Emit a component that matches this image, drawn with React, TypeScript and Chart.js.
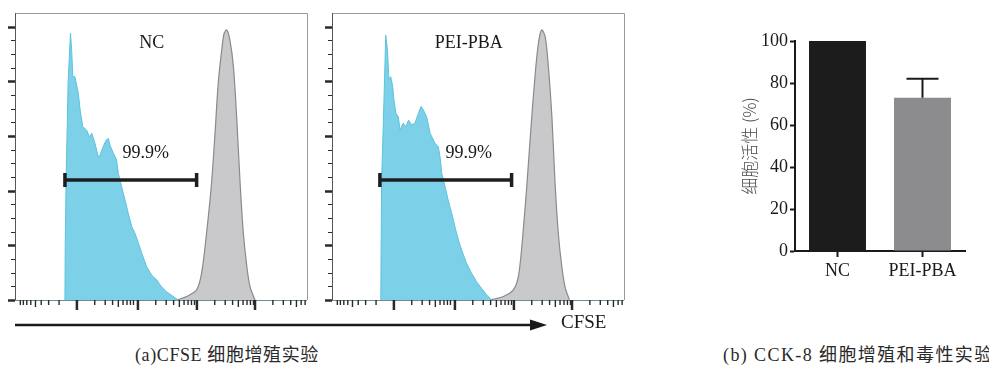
import React, { useEffect, useRef } from "react";
import { Chart, registerables } from "chart.js";

Chart.register(...registerables);

const SERIF = '"Liberation Serif", "Times New Roman", serif';
const CJK = '"Noto Sans CJK SC", "Noto Sans CJK JP", sans-serif';

function fontsReady(): Promise<any> {
  const d: any = document as any;
  if (!d.fonts || !d.fonts.load) return Promise.resolve();
  return Promise.all([
    d.fonts.load('17px "Liberation Serif"'),
    d.fonts.load('17px "Noto Sans CJK SC"', "细胞活性"),
  ]).catch(() => undefined);
}

// ---------- CFSE histograms: [channel, count] ----------
const ncBlue: [number, number][] = [
  [171, 0], [172, 20], [175, 44], [182, 80], [190, 97.6], [194, 91.5], [198, 81.7],
  [205, 81.7], [217, 75.6], [223, 69.5], [232, 63.4], [245, 62.2], [255, 59.7],
  [263, 61.0], [274, 57.3], [285, 52.4], [291, 53.0], [302, 56.1], [312, 58.5],
  [320, 59.1], [325, 56.7], [337, 53.7], [348, 51.2], [354, 46.3], [365, 41.5],
  [377, 36.5], [388, 31.7], [400, 26.8], [411, 24.4], [423, 20.7], [434, 17.1],
  [451, 12.2], [468, 9.1], [485, 7.4], [502, 4.8], [519, 3.0], [542, 1.3], [559, 0],
];
const ncGray: [number, number][] = [
  [554, 0], [588, 1.3], [622, 3.7], [639, 9.8], [656, 24.4], [673, 42.6], [685, 61.0],
  [696, 79.3], [708, 91.5], [716, 97.5], [725, 98.8], [736, 95.1], [748, 85.4],
  [759, 67.1], [771, 42.6], [782, 24.4], [794, 12.2], [805, 4.8], [822, 0],
];
const pbaBlue: [number, number][] = [
  [167, 0], [170, 43.9], [178, 73.2], [184, 96.9], [190, 91.5], [195, 80.5], [201, 81.7],
  [208, 78.0], [212, 73.2], [219, 68.3], [227, 67.1], [233, 62.2], [244, 64.7],
  [253, 63.4], [262, 65.8], [273, 64.1], [284, 64.7], [296, 68.3], [305, 70.8],
  [313, 69.5], [324, 67.1], [336, 61.0], [353, 57.3], [364, 56.1], [370, 52.4],
  [376, 46.3], [387, 41.5], [398, 36.5], [410, 31.7], [421, 26.8], [433, 21.9],
  [444, 18.3], [461, 13.4], [478, 9.8], [495, 6.7], [512, 4.3], [530, 1.8], [547, 0],
];
const pbaGray: [number, number][] = [
  [541, 0], [587, 1.3], [621, 3.7], [638, 8.5], [650, 19.5], [667, 41.5], [680, 61.0],
  [695, 81.7], [707, 94.0], [718, 98.8], [730, 96.4], [741, 85.4], [753, 67.1],
  [764, 42.6], [775, 24.4], [787, 12.2], [798, 4.8], [813, 0],
];
const ncGate = [171, 622];
const pbaGate = [164, 615];
const gateLevel = 43.9;
const gatePercent = "99.9%";
const histNames = ["NC", "PEI-PBA"];
const histYMax = 105;
const histYTicks = [0, 5, 10, 15, 20, 25, 30, 35, 40, 45, 50, 55, 60, 65, 70, 75, 80, 85, 90, 95, 100];
const histXMajor = [212, 421, 623, 822];
const histDecade = 203;

// ---------- CCK-8 bar chart ----------
const barCategories = ["NC", "PEI-PBA"];
const barValues = [100, 73];
const barErrors = [0, 9];
const barColors = ["#1c1c1c", "#8c8c8e"];
const barTicks = [0, 20, 40, 60, 80, 100];
const barYTitle = "细胞活性 (%)";

function minorLogTicks(): { v: number; len: number }[] {
  const out: { v: number; len: number }[] = [];
  for (const m of histXMajor) {
    for (let k = 2; k <= 9; k++) {
      const v = m + histDecade * Math.log10(k);
      if (v < 1000) out.push({ v, len: k === 5 ? 7 : 5 });
    }
  }
  const first = histXMajor[0];
  for (let k = 2; k <= 9; k++) {
    const v = first - histDecade * Math.log10(k);
    if (v > 0) out.push({ v, len: k === 5 ? 7 : 5 });
  }
  return out;
}

const histPlugin = {
  id: "histDecor",
  afterDatasetsDraw(chart: any) {
    const opts = chart.options.plugins.histDecor;
    const { ctx, chartArea } = chart;
    const xs = chart.scales.x;
    const ys = chart.scales.y;
    const { left, right, top, bottom } = chartArea;
    ctx.save();
    ctx.lineWidth = 1;
    ctx.strokeStyle = "#9a9a9a";
    ctx.beginPath();
    ctx.moveTo(left, top + 0.5);
    ctx.lineTo(right + 0.5, top + 0.5);
    ctx.lineTo(right + 0.5, bottom);
    ctx.stroke();
    ctx.strokeStyle = "#6f8a94";
    ctx.beginPath();
    ctx.moveTo(left, bottom + 0.5);
    ctx.lineTo(right, bottom + 0.5);
    ctx.stroke();
    ctx.strokeStyle = "#555";
    ctx.beginPath();
    ctx.moveTo(left + 0.5, top);
    ctx.lineTo(left + 0.5, bottom);
    ctx.stroke();
    ctx.strokeStyle = "#2a2a2a";
    for (const v of histYTicks) {
      const y = Math.round(ys.getPixelForValue(v)) + 0.5;
      const major = v % 20 === 0;
      ctx.lineWidth = major ? 2.5 : 1;
      ctx.beginPath();
      ctx.moveTo(left - (major ? 7 : 4), y);
      ctx.lineTo(left, y);
      ctx.stroke();
    }
    for (const m of histXMajor) {
      const x = xs.getPixelForValue(m);
      ctx.lineWidth = 2.5;
      ctx.beginPath();
      ctx.moveTo(x, bottom);
      ctx.lineTo(x, bottom + 10);
      ctx.stroke();
    }
    ctx.lineWidth = 1.4;
    for (const t of minorLogTicks()) {
      const x = xs.getPixelForValue(t.v);
      ctx.beginPath();
      ctx.moveTo(x, bottom);
      ctx.lineTo(x, bottom + t.len);
      ctx.stroke();
    }
    ctx.fillStyle = "#1a1a1a";
    ctx.font = `18px ${SERIF}`;
    ctx.textAlign = "center";
    ctx.textBaseline = "middle";
    ctx.fillText(opts.name, xs.getPixelForValue(opts.nameX), ys.getPixelForValue(opts.nameY));
    ctx.fillText(opts.pct, xs.getPixelForValue(opts.pctX), ys.getPixelForValue(opts.pctY));
    ctx.restore();
  },
};

function Histogram(props: {
  blue: [number, number][];
  gray: [number, number][];
  gate: number[];
  name: string;
  left: number;
  padL: number;
  padR: number;
}) {
  const ref = useRef<HTMLCanvasElement>(null);
  useEffect(() => {
    let chart: Chart | null = null;
    let dead = false;
    fontsReady().then(() => {
      if (dead || !ref.current) return;
      chart = new Chart(ref.current, {
        type: "line",
        data: {
          datasets: [
            {
              data: props.gate.map((x) => ({ x, y: gateLevel })),
              borderColor: "#1e1e1e",
              borderWidth: 3.5,
              pointStyle: "line",
              rotation: 90,
              pointRadius: 7,
              pointBorderWidth: 3.5,
              pointBorderColor: "#1e1e1e",
              fill: false,
              order: 0,
            } as any,
            {
              data: props.blue.map(([x, y]) => ({ x, y })),
              borderColor: "#5cc2dd",
              backgroundColor: "#7cd0e7",
              borderWidth: 1,
              pointRadius: 0,
              fill: "origin",
              tension: 0,
              order: 1,
            },
            {
              data: props.gray.map(([x, y]) => ({ x, y })),
              borderColor: "#888a8c",
              backgroundColor: "#c9c9cb",
              borderWidth: 1.2,
              pointRadius: 0,
              fill: "origin",
              tension: 0.3,
              order: 2,
            },
          ],
        },
        options: {
          responsive: false,
          animation: false,
          layout: { padding: { left: props.padL, right: props.padR, top: 13, bottom: 20 } },
          scales: {
            x: { type: "linear", min: 0, max: 1000, display: false },
            y: { type: "linear", min: 0, max: histYMax, display: false },
          },
          plugins: {
            legend: { display: false },
            tooltip: { enabled: false },
            histDecor: {
              name: props.name,
              nameX: 468,
              nameY: 93.9,
              pct: gatePercent,
              pctX: props.name === "NC" ? 448 : 468,
              pctY: 53.6,
            },
          } as any,
        },
        plugins: [histPlugin],
      });
    });
    return () => {
      dead = true;
      if (chart) chart.destroy();
    };
  }, []);
  return (
    <canvas
      ref={ref}
      width={320}
      height={320}
      style={{ position: "absolute", left: props.left, top: 0, width: 320, height: 320 }}
    />
  );
}

const errorPlugin = {
  id: "errBars",
  afterDatasetsDraw(chart: any) {
    const { ctx } = chart;
    const ys = chart.scales.y;
    const meta = chart.getDatasetMeta(0);
    ctx.save();
    ctx.strokeStyle = "#1a1a1a";
    ctx.lineWidth = 2;
    barErrors.forEach((e, i) => {
      if (!e) return;
      const bar = meta.data[i];
      const x = bar.x;
      const yTop = ys.getPixelForValue(barValues[i] + e);
      const yBase = ys.getPixelForValue(barValues[i]);
      ctx.beginPath();
      ctx.moveTo(x, yBase);
      ctx.lineTo(x, yTop);
      ctx.moveTo(x - 16, yTop);
      ctx.lineTo(x + 16, yTop);
      ctx.stroke();
    });
    ctx.restore();
  },
};

function BarChart() {
  const ref = useRef<HTMLCanvasElement>(null);
  useEffect(() => {
    let chart: Chart | null = null;
    let dead = false;
    fontsReady().then(() => {
      if (dead || !ref.current) return;
      chart = new Chart(ref.current, {
        type: "bar",
        data: {
          labels: barCategories,
          datasets: [
            {
              data: barValues,
              backgroundColor: barColors,
              borderWidth: 0,
              barPercentage: 0.67,
              categoryPercentage: 1,
            },
          ],
        },
        options: {
          responsive: false,
          animation: false,
          layout: { padding: { left: 0, right: 24, top: 41, bottom: 0 } },
          scales: {
            x: {
              afterFit: (s: any) => {
                s.height = 49;
              },
              grid: {
                display: true,
                drawOnChartArea: false,
                offset: false,
                tickLength: 6,
                tickWidth: 2,
                tickColor: "#1a1a1a",
              },
              border: { color: "#1a1a1a", width: 2 },
              ticks: { color: "#1a1a1a", font: { family: SERIF, size: 18 }, padding: 3 },
            },
            y: {
              min: 0,
              max: 100,
              afterFit: (s: any) => {
                s.width = 65;
              },
              afterBuildTicks: (s: any) => {
                s.ticks = barTicks.map((v) => ({ value: v }));
              },
              grid: {
                display: true,
                drawOnChartArea: false,
                tickLength: 5,
                tickWidth: 2,
                tickColor: "#1a1a1a",
              },
              border: { color: "#1a1a1a", width: 2 },
              ticks: { color: "#1a1a1a", font: { family: SERIF, size: 18 }, padding: 2 },
              title: {
                display: true,
                text: barYTitle,
                color: "#4a4a4a",
                font: { family: CJK, size: 17, weight: "300" as any },
                padding: { top: 9, bottom: 0 },
              },
            },
          },
          plugins: { legend: { display: false }, tooltip: { enabled: false } },
        },
        plugins: [errorPlugin],
      });
    });
    return () => {
      dead = true;
      if (chart) chart.destroy();
    };
  }, []);
  return (
    <canvas
      ref={ref}
      width={259}
      height={300}
      style={{ position: "absolute", left: 730, top: 0, width: 259, height: 300 }}
    />
  );
}

const captionStyle: React.CSSProperties = {
  position: "absolute",
  top: 344,
  fontFamily: `"Liberation Serif", ${CJK}`,
  fontSize: 18,
  lineHeight: "22px",
  color: "#2a2a2a",
  whiteSpace: "nowrap",
};

export default function App() {
  return (
    <div
      style={{
        position: "absolute",
        left: 0,
        top: 0,
        width: 989,
        height: 369,
        background: "#fff",
        overflow: "hidden",
      }}
    >
      <Histogram blue={ncBlue} gray={ncGray} gate={ncGate} name={histNames[0]} left={0} padL={15} padR={13} />
      <Histogram blue={pbaBlue} gray={pbaGray} gate={pbaGate} name={histNames[1]} left={320} padL={12} padR={16} />
      <svg width={560} height={20} style={{ position: "absolute", left: 0, top: 315 }}>
        <line x1={15} y1={10} x2={534} y2={10} stroke="#1a1a1a" strokeWidth={2.5} />
        <polygon points="530,4.5 547,10 530,15.5" fill="#1a1a1a" />
      </svg>
      <div
        style={{
          position: "absolute",
          left: 561,
          top: 311,
          fontFamily: SERIF,
          fontSize: 19,
          lineHeight: "22px",
          color: "#1a1a1a",
        }}
      >
        CFSE
      </div>
      <BarChart />
      <div style={{ ...captionStyle, left: 135, letterSpacing: 0.6 }}>(a)CFSE 细胞增殖实验</div>
      <div style={{ ...captionStyle, left: 723, letterSpacing: 1.4 }}>(b) CCK-8 细胞增殖和毒性实验</div>
    </div>
  );
}
